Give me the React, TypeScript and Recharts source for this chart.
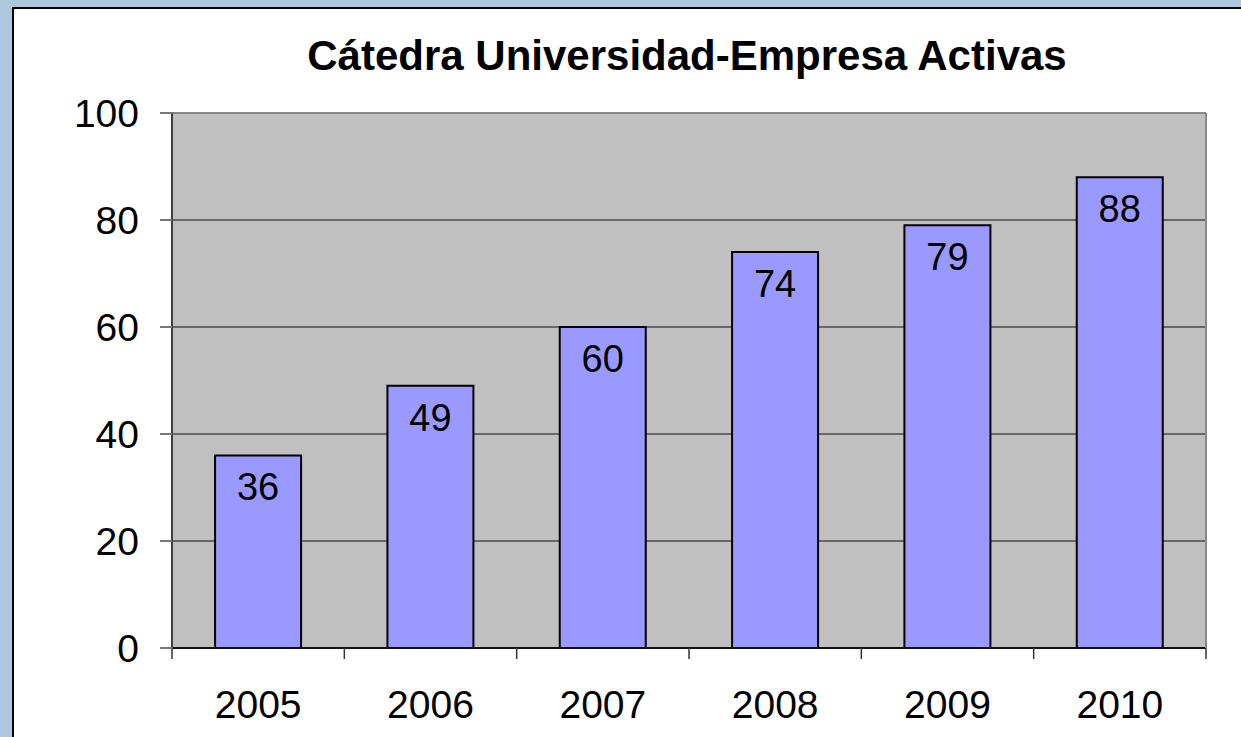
import { Bar, BarChart, CartesianGrid, LabelList, ReferenceLine, XAxis, YAxis } from "recharts"

const years = ["2005", "2006", "2007", "2008", "2009", "2010"]
const catedras = [36, 49, 60, 74, 79, 88]
const yTicks = [0, 20, 40, 60, 80, 100]
// category boundaries, used only for the small tick marks under the axis
const boundaryTicks = [0, 1, 2, 3, 4, 5, 6]

const data = years.map((year, i) => ({ year, value: catedras[i], slot: i + 0.5 }))

const FONT = "'Liberation Sans', Arial, sans-serif"

const NoLabel = () => <g />

export default function App() {
  return (
    <div
      style={{
        position: "relative",
        width: 1241,
        height: 737,
        overflow: "hidden",
        background: "#adc8de",
        fontFamily: FONT,
      }}
    >
      <style>{"body { margin: 0; }"}</style>
      <div
        style={{
          position: "absolute",
          left: 12,
          top: 7,
          width: 1300,
          height: 800,
          background: "#fff",
          border: "2px solid #000",
        }}
      />
      <div
        style={{
          position: "absolute",
          left: 687,
          top: 35,
          transform: "translateX(-50%)",
          whiteSpace: "nowrap",
          fontSize: 42,
          lineHeight: "42px",
          fontWeight: 700,
          color: "#000",
        }}
      >
        Cátedra Universidad-Empresa Activas
      </div>
      <div style={{ position: "absolute", left: 0, top: 0 }}>
        <BarChart
          width={1241}
          height={737}
          data={data}
          margin={{ top: 113, right: 0, bottom: 0, left: 0 }}
          barCategoryGap="25%"
          style={{ fontFamily: FONT }}
        >
          <CartesianGrid vertical={false} fill="#c0c0c0" stroke="#4a4a4a" strokeWidth={1.5} />
          <XAxis
            xAxisId="boundary"
            type="number"
            dataKey="slot"
            domain={[0, 6]}
            ticks={boundaryTicks}
            tick={<NoLabel />}
            tickSize={11}
            height={1}
            axisLine={{ stroke: "#111", strokeWidth: 2 }}
            tickLine={{ stroke: "#333", strokeWidth: 1.5 }}
            allowDataOverflow
          />
          <XAxis
            xAxisId="year"
            dataKey="year"
            height={88}
            tickLine={false}
            axisLine={false}
            tickMargin={35}
            tick={{ fill: "#000", fontSize: 39 }}
          />
          <YAxis
            domain={[0, 100]}
            ticks={yTicks}
            width={172}
            tickSize={12}
            tickMargin={21}
            axisLine={{ stroke: "#404040", strokeWidth: 2 }}
            tickLine={{ stroke: "#777", strokeWidth: 2 }}
            tick={{ fill: "#000", fontSize: 39 }}
          />
          <YAxis
            yAxisId="r"
            orientation="right"
            domain={[0, 100]}
            width={35}
            tick={false}
            tickLine={false}
            axisLine={{ stroke: "#888", strokeWidth: 2 }}
          />
          <ReferenceLine y={100} stroke="#888" strokeWidth={2} />
          <Bar
            dataKey="value"
            xAxisId="year"
            fill="#9999ff"
            stroke="#000"
            strokeWidth={2}
            isAnimationActive={false}
          >
            <LabelList
              dataKey="value"
              position="insideTop"
              offset={18}
              style={{ fill: "#000", fontSize: 38, fontFamily: FONT }}
            />
          </Bar>
        </BarChart>
      </div>
    </div>
  )
}
